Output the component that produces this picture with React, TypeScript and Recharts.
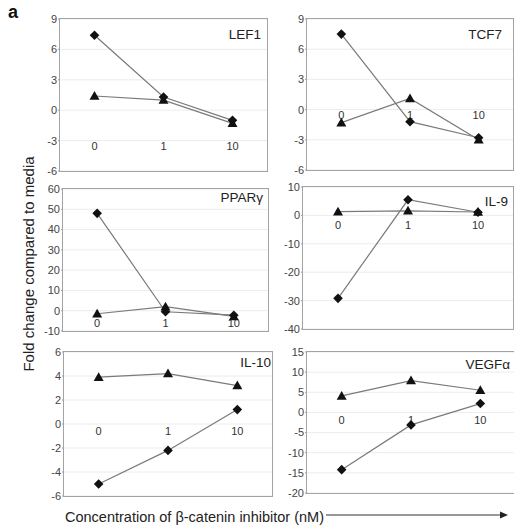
import React from "react"
import { LineChart, Line, XAxis, YAxis, CartesianGrid, ReferenceDot } from "recharts"

const FONT = '"Liberation Sans", Arial, Helvetica, sans-serif'

// beta-catenin inhibitor doses (nM)
const doses = ["0", "1", "10"]

// fold change values, diamond series and triangle series
const lef1Diamond = [7.4, 1.3, -1.0]
const lef1Triangle = [1.4, 1.0, -1.3]
const tcf7Diamond = [7.5, -1.2, -2.8]
const tcf7Triangle = [-1.3, 1.1, -3.0]
const pparDiamond = [48, -0.5, -2.2]
const pparTriangle = [-1.5, 2.0, -2.8]
const il9Diamond = [-29.2, 5.5, 1.1]
const il9Triangle = [1.3, 1.6, 1.2]
const il10Diamond = [-5.0, -2.2, 1.2]
const il10Triangle = [3.9, 4.2, 3.2]
const vegfDiamond = [-14.2, -3.1, 2.2]
const vegfTriangle = [4.1, 7.9, 5.5]

// y ticks
const ticksSmall = [-6, -3, 0, 3, 6, 9]
const ticksPpar = [-10, 0, 10, 20, 30, 40, 50, 60]
const ticksIl9 = [-40, -30, -20, -10, 0, 10]
const ticksIl10 = [-6, -4, -2, 0, 2, 4, 6]
const ticksVegf = [-20, -15, -10, -5, 0, 5, 10, 15]

// where the dose labels sit, in data units
const labelLevels = [-3.5, -0.6, -6, -3.6, -0.6, -1.9]

interface PanelSpec {
    title: string
    diamond: number[]
    triangle: number[]
    ticks: number[]
    labelAt: number
    box: { x: number; y: number; w: number; h: number }
    titleRight: number
    titleTop: number
}

const panels: PanelSpec[] = [
    { title: "LEF1", diamond: lef1Diamond, triangle: lef1Triangle, ticks: ticksSmall, labelAt: labelLevels[0], box: { x: 60, y: 19, w: 207, h: 152 }, titleRight: 6, titleTop: 8 },
    { title: "TCF7", diamond: tcf7Diamond, triangle: tcf7Triangle, ticks: ticksSmall, labelAt: labelLevels[1], box: { x: 307, y: 19, w: 206, h: 151 }, titleRight: 11, titleTop: 8 },
    { title: "PPARγ", diamond: pparDiamond, triangle: pparTriangle, ticks: ticksPpar, labelAt: labelLevels[2], box: { x: 63, y: 189, w: 205, h: 142 }, titleRight: 5, titleTop: 1 },
    { title: "IL-9", diamond: il9Diamond, triangle: il9Triangle, ticks: ticksIl9, labelAt: labelLevels[3], box: { x: 303, y: 187, w: 210, h: 142 }, titleRight: 5, titleTop: 7 },
    { title: "IL-10", diamond: il10Diamond, triangle: il10Triangle, ticks: ticksIl10, labelAt: labelLevels[4], box: { x: 64, y: 352, w: 208, h: 144 }, titleRight: 1, titleTop: 3 },
    { title: "VEGFα", diamond: vegfDiamond, triangle: vegfTriangle, ticks: ticksVegf, labelAt: labelLevels[5], box: { x: 307, y: 352, w: 208, h: 141 }, titleRight: 5, titleTop: 5 },
]

// eslint-disable-next-line @typescript-eslint/no-explicit-any
function Diamond({ cx, cy }: any) {
    if (cx == null || cy == null) return null
    const s = 4.8
    return <path d={`M${cx},${cy - s}L${cx + s},${cy}L${cx},${cy + s}L${cx - s},${cy}Z`} fill="#111" />
}

// eslint-disable-next-line @typescript-eslint/no-explicit-any
function Triangle({ cx, cy }: any) {
    if (cx == null || cy == null) return null
    const s = 5
    return <path d={`M${cx},${cy - s}L${cx + s},${cy + s * 0.75}L${cx - s},${cy + s * 0.75}Z`} fill="#111" />
}

// dose label drawn at the reference dot's centre
// eslint-disable-next-line @typescript-eslint/no-explicit-any
function doseLabel(text: string) {
    // eslint-disable-next-line @typescript-eslint/no-explicit-any
    return (p: any) => {
        const vb = p.viewBox || {}
        const x = (vb.x ?? 0) + (vb.width ?? 0) / 2
        const y = (vb.y ?? 0) + (vb.height ?? 0) / 2
        return (
            <text x={x} y={y} dy="0.35em" textAnchor="middle" fill="#333" stroke="none" fontSize={11} fontFamily={FONT}>
                {text}
            </text>
        )
    }
}

const padL = 40
const padT = 10
const padR = 10
const padB = 10

function Panel({ spec }: { spec: PanelSpec }) {
    const { box } = spec
    const data = doses.map((d, i) => ({ dose: d, diamond: spec.diamond[i], triangle: spec.triangle[i] }))
    const pad = box.w / 6
    const w = box.w + padL + padR
    const h = box.h + padT + padB
    const lo = spec.ticks[0]
    const hi = spec.ticks[spec.ticks.length - 1]

    return (
        <div style={{ position: "absolute", left: box.x - padL, top: box.y - padT, width: w, height: h }}>
            <LineChart width={w} height={h} data={data} margin={{ top: padT, right: padR, bottom: padB, left: 0 }}>
                <CartesianGrid vertical={false} stroke="#ececec" />
                <XAxis dataKey="dose" hide padding={{ left: pad, right: pad }} />
                <YAxis
                    type="number"
                    width={padL}
                    domain={[lo, hi]}
                    ticks={spec.ticks}
                    interval={0}
                    axisLine={false}
                    tickSize={2}
                    tickMargin={1}
                    tickLine={{ stroke: "#999" }}
                    tick={{ fontSize: 11, fill: "#444", fontFamily: FONT }}
                />
                {doses.map((d) => (
                    <ReferenceDot
                        key={d}
                        x={d}
                        y={spec.labelAt}
                        r={0}
                        fill="none"
                        stroke="none"
                        label={{ content: doseLabel(d) }}
                    />
                ))}
                <Line
                    type="linear"
                    dataKey="triangle"
                    name="triangle"
                    stroke="#7a7a7a"
                    strokeWidth={1.2}
                    // eslint-disable-next-line @typescript-eslint/no-explicit-any
                    dot={(p: any) => <Triangle key={`t-${p.index}`} cx={p.cx} cy={p.cy} />}
                    activeDot={false}
                    isAnimationActive={false}
                />
                <Line
                    type="linear"
                    dataKey="diamond"
                    name="diamond"
                    stroke="#7a7a7a"
                    strokeWidth={1.2}
                    // eslint-disable-next-line @typescript-eslint/no-explicit-any
                    dot={(p: any) => <Diamond key={`d-${p.index}`} cx={p.cx} cy={p.cy} />}
                    activeDot={false}
                    isAnimationActive={false}
                />
            </LineChart>
            <div
                style={{
                    position: "absolute",
                    left: padL - 1,
                    top: padT - 1,
                    width: box.w + 2,
                    height: box.h + 2,
                    border: "1.5px solid #a3a3a3",
                    boxSizing: "border-box",
                    pointerEvents: "none",
                }}
            />
            <div
                style={{
                    position: "absolute",
                    right: padR + spec.titleRight,
                    top: padT + spec.titleTop,
                    fontSize: 13.5,
                    fontFamily: FONT,
                    color: "#222",
                    lineHeight: "16px",
                }}
            >
                {spec.title}
            </div>
        </div>
    )
}

export default function App() {
    return (
        <div style={{ position: "absolute", left: 0, top: 0, width: 514, height: 531, background: "#fff", overflow: "hidden", fontFamily: FONT }}>
            <div style={{ position: "absolute", left: 8, top: 2, fontSize: 18, fontWeight: "bold", color: "#111" }}>a</div>
            {panels.map((p) => (
                <Panel key={p.title} spec={p} />
            ))}
            <div
                style={{
                    position: "absolute",
                    left: 28,
                    top: 264,
                    transform: "translate(-50%, -50%) rotate(-90deg)",
                    whiteSpace: "nowrap",
                    fontSize: 15,
                    color: "#222",
                }}
            >
                Fold change compared to media
            </div>
            <div style={{ position: "absolute", left: 65, top: 508, fontSize: 14.5, color: "#222", whiteSpace: "nowrap", lineHeight: "18px" }}>
                Concentration of β-catenin inhibitor (nM)
            </div>
            <svg style={{ position: "absolute", left: 0, top: 0 }} width={514} height={531}>
                <line x1={326} y1={515} x2={502} y2={515} stroke="#333" strokeWidth={1.2} />
                <path d="M508,515L500,511.5L500,518.5Z" fill="#222" />
            </svg>
        </div>
    )
}
